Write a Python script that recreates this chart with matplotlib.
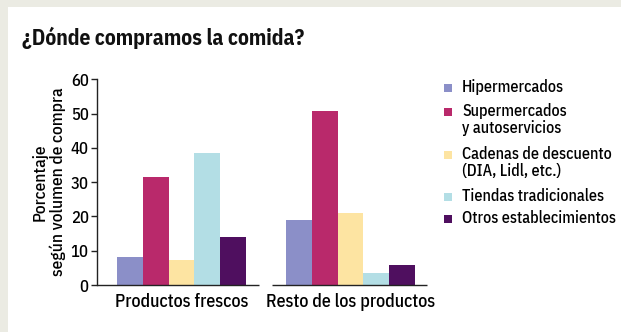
import matplotlib
matplotlib.use("Agg")
import matplotlib.pyplot as plt
from matplotlib.patches import Rectangle

groups = ["Productos frescos", "Resto de los productos"]
series = ["Hipermercados", "Supermercados\ny autoservicios",
          "Cadenas de descuento\n(DIA, Lidl, etc.)", "Tiendas tradicionales",
          "Otros establecimientos"]
hiper = [8.2, 18.9]
super_ = [31.5, 50.7]
cadenas = [7.3, 20.9]
tiendas = [38.4, 3.4]
otros = [13.9, 5.8]
values = [hiper, super_, cadenas, tiendas, otros]
colors = ["#8b8fc8", "#b9296b", "#fde4a2", "#b3dee5", "#4f0f5f"]
yticks = [0, 10, 20, 30, 40, 50, 60]

FONT = ["IBM Plex Sans Condensed", "DejaVu Sans"]
plt.rcParams["font.family"] = FONT
plt.rcParams["font.weight"] = 500

fig = plt.figure(figsize=(6.21, 3.32), dpi=100)
fig.patch.set_facecolor("white")
fig.patches.append(Rectangle((0, 0), 8 / 621, 1, transform=fig.transFigure,
                             facecolor="#ebebe3", edgecolor="none", zorder=-5))
fig.patches.append(Rectangle((0, 1 - 7 / 332), 1, 7 / 332, transform=fig.transFigure,
                             facecolor="#ebebe3", edgecolor="none", zorder=-5))

ax = fig.add_axes([97 / 621, 47 / 332, (427 - 97) / 621, (285 - 79.3) / 332])
ax.set_facecolor("none")

gap = 6.55
for i, (vals, col) in enumerate(zip(values, colors)):
    xs = [i + g * gap for g in range(len(groups))]
    ax.bar(xs, vals, width=1.0, color=col, edgecolor="none")

ax.set_ylim(0, 60)
ax.set_xlim(-1.275, 4 + gap + 0.5 + 0.465)
ax.set_yticks(yticks)
ax.set_yticklabels([str(t) for t in yticks], fontsize=12, fontweight=500)
ax.set_xticks([2 + g * gap for g in range(len(groups))])
ax.set_xticklabels(groups, fontsize=13, fontweight=500)
ax.tick_params(axis="x", length=0, pad=6)
ax.tick_params(axis="y", length=4, width=1, pad=2, color="#222222")
for s in ["top", "right", "bottom"]:
    ax.spines[s].set_visible(False)
ax.spines["left"].set_linewidth(1)
ax.spines["left"].set_color("#222222")
ax.hlines(0, -1.275, 5.0, color="#222222", lw=1, clip_on=False)
ax.hlines(0, 5.51, 4 + gap + 0.965, color="#222222", lw=1, clip_on=False)

ax.set_ylabel("Porcentaje\nsegún volumen de compra", fontsize=12.5, fontweight=500,
              multialignment="center", labelpad=3, linespacing=1.2)

fig.text(22 / 621, 1 - 45 / 332, "¿Dónde compramos la comida?", fontsize=15.5,
         fontweight="bold", color="#111111", ha="left", va="baseline")

leg_y = [88, 112, 155, 197, 219]
for lab, col, yy in zip(series, colors, leg_y):
    fig.patches.append(Rectangle((444 / 621, 1 - (yy + 4) / 332), 8 / 621, 8 / 332,
                                 transform=fig.transFigure, facecolor=col,
                                 edgecolor="none"))
    fig.text(462 / 621, 1 - (yy - 9) / 332, lab, fontsize=11.5, fontweight=500,
             ha="left", va="top", linespacing=1.1, transform=fig.transFigure)

fig.savefig("out.png", dpi=100)
